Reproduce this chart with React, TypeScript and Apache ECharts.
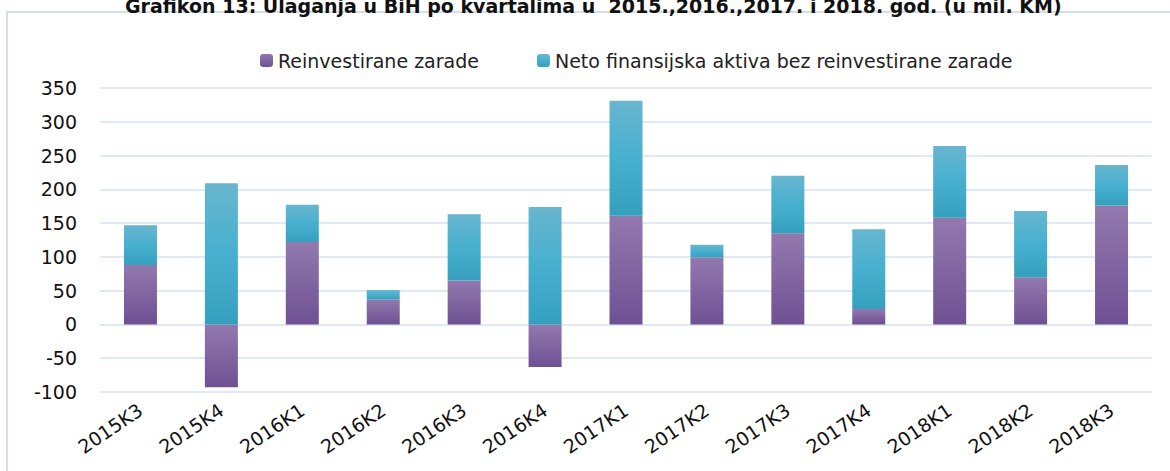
import React, { useEffect, useRef } from "react";
import * as echarts from "echarts";

const categories = ["2015K3", "2015K4", "2016K1", "2016K2", "2016K3", "2016K4", "2017K1", "2017K2", "2017K3", "2017K4", "2018K1", "2018K2", "2018K3"];
const reinvestirane = [88, -93, 122, 37, 65, -63, 161, 99, 135, 23, 158, 70, 176];
const netoAktiva = [59, 209, 55, 14, 98, 174, 170, 19, 85, 118, 106, 98, 60];
const titleText = "Grafikon 13: Ulaganja u BiH po kvartalima u  2015.,2016.,2017. i 2018. god. (u mil. KM)";
const seriesNames = ["Reinvestirane zarade", "Neto finansijska aktiva bez reinvestirane zarade"];

const FONT = "'DejaVu Sans', sans-serif";

export default function App() {
  const ref = useRef<HTMLDivElement>(null);
  useEffect(() => {
    if (!ref.current) return;
    const chart = echarts.init(ref.current, undefined, { renderer: "svg" });
    const purple = new echarts.graphic.LinearGradient(0, 0, 0, 1, [
      { offset: 0, color: "#9279ae" },
      { offset: 1, color: "#6f5193" },
    ]);
    const teal = new echarts.graphic.LinearGradient(0, 0, 0, 1, [
      { offset: 0, color: "#68b6cf" },
      { offset: 0.5, color: "#47b0cf" },
      { offset: 1, color: "#35a0bd" },
    ]);
    chart.setOption({
      animation: false,
      backgroundColor: "#ffffff",
      title: {
        text: titleText,
        left: 120,
        top: -9,
        textStyle: { fontFamily: FONT, fontSize: 19, fontWeight: "bold", color: "#111" },
      },
      graphic: [
        {
          type: "rect",
          shape: { x: 7, y: 12, width: 1180, height: 480 },
          style: { fill: "none", stroke: "#d3dfee", lineWidth: 2 },
          silent: true,
        },
      ],
      legend: {
        top: 46,
        left: 255,
        itemWidth: 13,
        itemHeight: 13,
        itemGap: 58,
        textStyle: { fontFamily: FONT, fontSize: 19, color: "#222" },
        data: seriesNames,
      },
      grid: { left: 100, right: 18, top: 88, bottom: 79, containLabel: false },
      xAxis: {
        type: "category",
        data: categories,
        axisLine: { show: false, onZero: false },
        axisTick: { show: false },
        axisLabel: { rotate: 34, interval: 0, margin: 16, fontFamily: FONT, fontSize: 19, color: "#111" },
      },
      yAxis: {
        type: "value",
        min: -100,
        max: 350,
        interval: 50,
        axisLine: { show: false },
        axisTick: { show: false },
        axisLabel: { margin: 23, fontFamily: FONT, fontSize: 19, color: "#111" },
        splitLine: { lineStyle: { color: "#d6e2f3", width: 1.5 } },
      },
      series: [
        {
          name: seriesNames[0],
          type: "bar",
          stack: "total",
          barWidth: 33,
          data: reinvestirane,
          itemStyle: { color: purple },
        },
        {
          name: seriesNames[1],
          type: "bar",
          stack: "total",
          barWidth: 33,
          data: netoAktiva,
          itemStyle: { color: teal },
        },
      ],
    });
    return () => chart.dispose();
  }, []);
  return <div ref={ref} style={{ position: "fixed", left: 0, top: 0, width: 1170, height: 471 }} />;
}
